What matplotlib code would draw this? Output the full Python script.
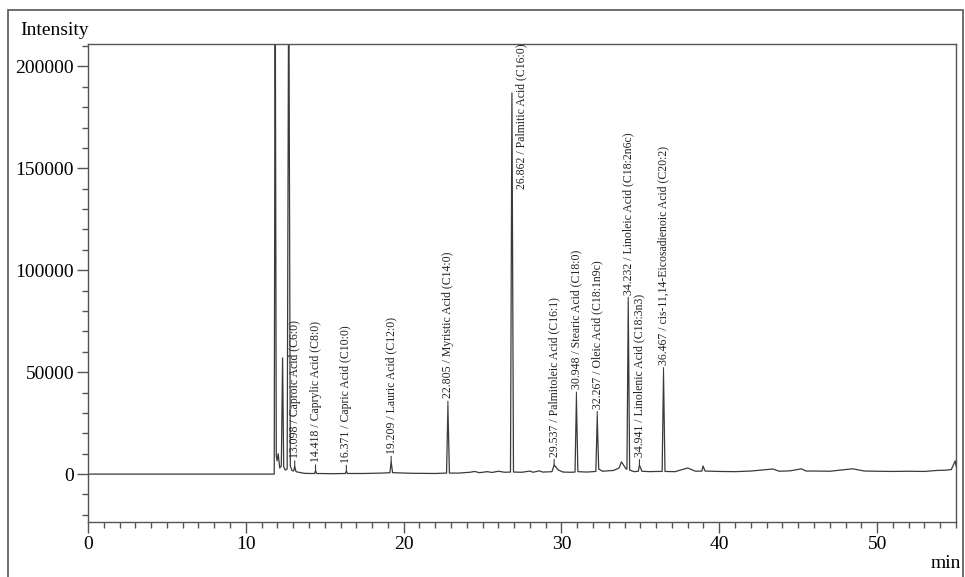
import matplotlib
matplotlib.use("Agg")
import matplotlib.pyplot as plt
from matplotlib.ticker import MultipleLocator, FixedLocator
from matplotlib.patches import Rectangle

# ----------------------------
# Chromatogram trace
# ----------------------------
trace_time = [
    0.0, 11.80, 11.86, 11.93, 11.98, 12.05, 12.15, 12.25, 12.33, 12.40, 12.50,
    12.62, 12.72, 12.82, 12.92, 13.03, 13.098, 13.18, 13.40, 13.70, 14.00,
    14.36, 14.418, 14.48, 15.50, 16.31, 16.371, 16.43, 17.50, 18.60, 18.90,
    19.13, 19.209, 19.30, 20.50, 22.00, 22.72, 22.805, 22.90, 23.50, 24.20,
    24.50, 24.80, 25.30, 25.60, 26.00, 26.40, 26.77, 26.862, 26.96, 27.50,
    28.00, 28.20, 28.60, 28.80, 29.20, 29.40, 29.537, 29.80, 30.10, 30.60,
    30.86, 30.948, 31.04, 31.60, 32.00, 32.18, 32.267, 32.36, 32.60, 33.30,
    33.65, 33.80, 34.10, 34.15, 34.232, 34.32, 34.60, 34.87, 34.941, 35.10,
    35.60, 36.00, 36.38, 36.467, 36.56, 37.20, 38.00, 38.50, 38.90, 38.97,
    39.10, 40.00, 41.00, 42.00, 43.40, 43.80, 44.50, 45.20, 45.50, 46.00,
    47.00, 48.45, 49.20, 50.00, 51.00, 52.00, 53.00, 53.80, 54.30, 54.70,
    54.95, 55.00, 55.30,
]
trace_intensity = [
    0, 0, 260000, 9000, 6500, 10000, 3000, 4000, 57000, 3500, 2000,
    2500, 260000, 4000, 1800, 1500, 3800, 1200, 800, 400, 300,
    300, 1800, 300, 200, 300, 1600, 300, 300, 500, 600,
    700, 6000, 700, 400, 300, 500, 33000, 500, 500, 900,
    1300, 700, 1200, 800, 1400, 900, 1000, 187000, 1000, 900,
    1500, 900, 1600, 1000, 1100, 1200, 4500, 2000, 1000, 900,
    1000, 37500, 1200, 1000, 1200, 1300, 28000, 2500, 1400, 1800,
    3000, 6000, 2500, 2500, 84000, 2000, 1200, 1400, 4400, 1400,
    1200, 1300, 1300, 49500, 1300, 1200, 3000, 1400, 1500, 4000,
    1500, 1300, 1200, 1500, 2500, 1400, 1600, 2600, 1500, 1500,
    1400, 2600, 1500, 1400, 1300, 1400, 1300, 1800, 1900, 2200,
    6500, 4000, 1500,
]

# ----------------------------
# Identified peaks
# ----------------------------
peak_times = [13.098, 14.418, 16.371, 19.209, 22.805, 26.862,
              29.537, 30.948, 32.267, 34.232, 34.941, 36.467]
peak_heights = [3800, 1800, 1600, 6000, 33000, 187000,
                4500, 37500, 28000, 84000, 4400, 49500]
peak_names = [
    "Caproic Acid (C6:0)",
    "Caprylic Acid (C8:0)",
    "Capric Acid (C10:0)",
    "Lauric Acid (C12:0)",
    "Myristic Acid (C14:0)",
    "Palmitic Acid (C16:0)",
    "Palmitoleic Acid (C16:1)",
    "Stearic Acid (C18:0)",
    "Oleic Acid (C18:1n9c)",
    "Linoleic Acid (C18:2n6c)",
    "Linolenic Acid (C18:3n3)",
    "cis-11,14-Eicosadienoic Acid (C20:2)",
]

plt.rcParams['font.family'] = ['Liberation Serif', 'DejaVu Serif']
line_col = '#3a3a3a'
axis_col = '#555555'

fig = plt.figure(figsize=(9.65, 5.77), dpi=100)
ax = fig.add_axes([88/965, 55/577, 868/965, 478/577])

ax.plot(trace_time, trace_intensity, color=line_col, lw=0.9)

ax.set_xlim(0, 55)
ax.set_ylim(-23500, 211000)

ax.xaxis.set_major_locator(FixedLocator([0, 10, 20, 30, 40, 50]))
ax.xaxis.set_minor_locator(MultipleLocator(1))
ax.yaxis.set_major_locator(MultipleLocator(50000))
ax.yaxis.set_minor_locator(MultipleLocator(10000))
ax.tick_params(axis='both', which='major', direction='out', length=8,
               width=1, color=axis_col, labelsize=14, pad=2)
ax.tick_params(axis='both', which='minor', direction='out', length=4,
               width=1, color=axis_col)
for s in ax.spines.values():
    s.set_color(axis_col)
    s.set_linewidth(1)

# peak labels
for t, h, name in zip(peak_times, peak_heights, peak_names):
    txt = f"{t:.3f} / {name}"
    if name.startswith("Palmitic"):
        ax.text(t + 0.6, 140000, txt, rotation=90, ha='center', va='bottom',
                fontsize=8.5, color='#222222', clip_on=False)
        continue
    ax.annotate(txt, xy=(t, h), xytext=(0, 6), textcoords='offset points',
                rotation=90, ha='center', va='bottom', fontsize=8.5,
                color='#222222',
                arrowprops=dict(arrowstyle='-', color=line_col, lw=0.8,
                                shrinkA=0, shrinkB=0))

fig.text(20/965, (577-35)/577, "Intensity", ha='left', va='baseline', fontsize=14)
fig.text(961/965, (577-568)/577, "min", ha='right', va='baseline', fontsize=14)

# outer frame
fig.patches.append(Rectangle((8/965, -0.02), 955/965, 1.02 - 10/577,
                             transform=fig.transFigure, fill=False,
                             edgecolor=axis_col, lw=1.2))

fig.savefig("out.png", dpi=100)
